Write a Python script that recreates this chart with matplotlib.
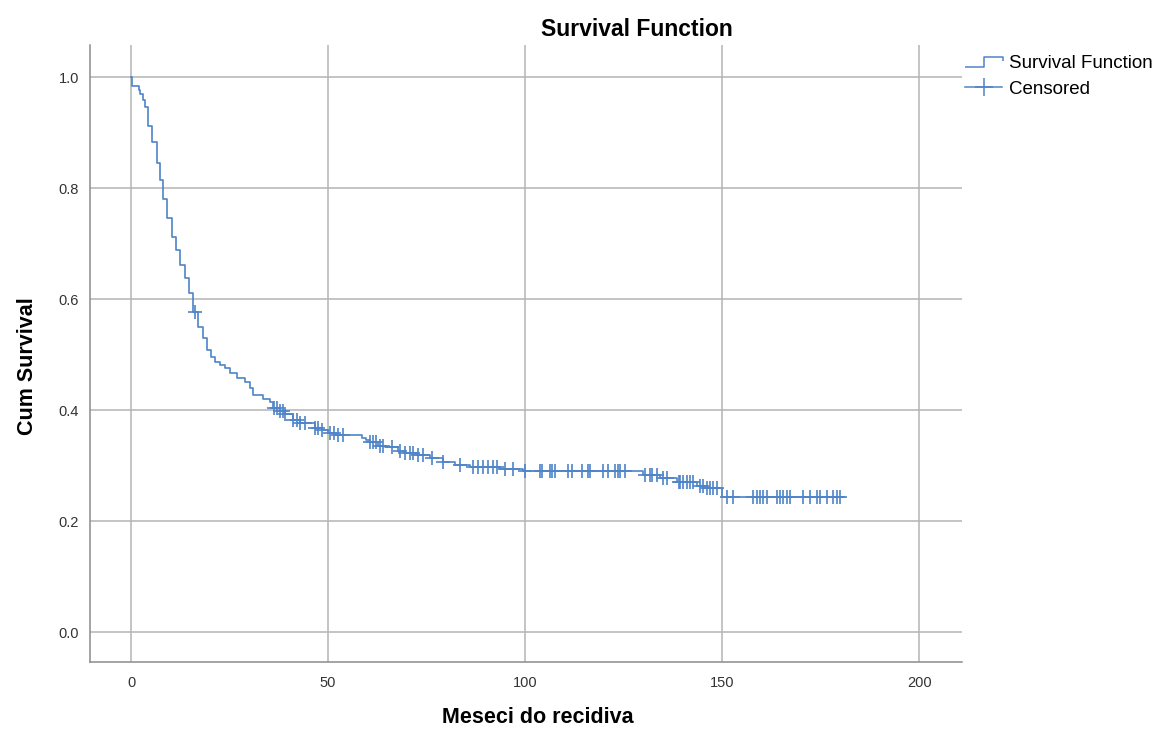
import numpy as np
import matplotlib.pyplot as plt
from matplotlib.lines import Line2D
from matplotlib.path import Path

plt.rcParams['font.family'] = ['Liberation Sans', 'DejaVu Sans']

# Kaplan-Meier estimate: event times (months) and survival after each event
event_months = [0.2, 1.9, 2.3, 3.0, 3.6, 4.4, 5.3, 6.5, 7.4, 8.2, 9.1, 10.4, 11.3,
                12.4, 13.7, 14.8, 15.7, 16.9, 18.3, 19.3, 20.3, 21.3, 22.6, 23.9,
                25.1, 26.9, 28.9, 30.2, 31.0, 33.5, 35.3, 36.0, 37.8, 39.1, 41.1,
                42.9, 46.7, 48.5, 50.0, 51.8, 58.6, 59.6, 60.7, 62.7, 64.5, 67.8,
                69.5, 72.1, 75.9, 79.2, 82.2, 86.0, 93.7, 99.5, 130.0, 134.3,
                138.6, 143.7, 146.2, 150.0]
survival = [0.984, 0.977, 0.970, 0.958, 0.946, 0.911, 0.883, 0.845, 0.814, 0.780,
            0.746, 0.712, 0.688, 0.661, 0.638, 0.611, 0.576, 0.550, 0.530, 0.508,
            0.495, 0.486, 0.481, 0.476, 0.467, 0.458, 0.450, 0.440, 0.427, 0.420,
            0.414, 0.404, 0.398, 0.393, 0.383, 0.377, 0.368, 0.364, 0.358, 0.355,
            0.350, 0.346, 0.342, 0.336, 0.333, 0.326, 0.322, 0.319, 0.313, 0.306,
            0.301, 0.297, 0.293, 0.290, 0.283, 0.277, 0.271, 0.263, 0.260, 0.243]
last_followup = 181.0

censored_months = [16.2, 36.3, 37.1, 37.8, 38.6, 39.1, 41.1, 42.1, 42.9, 44.2,
                   46.7, 47.5, 48.5, 50.5, 51.5, 52.5, 53.8, 60.7, 61.4, 62.2,
                   63.2, 64.0, 66.2, 68.3, 69.5, 70.8, 71.6, 72.8, 74.1, 76.4,
                   79.2, 83.5, 86.8, 88.1, 89.3, 90.6, 91.9, 92.9, 94.9, 96.9,
                   100.0, 103.8, 104.3, 106.3, 106.9, 107.6, 111.0, 112.0, 114.5,
                   116.0, 116.5, 119.8, 121.1, 122.8, 123.6, 124.1, 125.4, 130.5,
                   131.7, 132.2, 133.5, 135.0, 136.0, 139.0, 139.3, 140.1, 141.1,
                   141.9, 142.6, 144.4, 145.2, 146.2, 146.9, 147.7, 148.7, 151.3,
                   152.8, 157.9, 158.9, 159.6, 160.4, 161.4, 163.9, 164.7, 165.5,
                   166.5, 167.3, 170.6, 172.3, 174.1, 174.9, 176.6, 178.2, 179.2,
                   179.9]

color = '#4f84c8'
grid_color = '#b4b4b4'

# step curve starting at (0, 1)
t = np.concatenate([[0.0], event_months, [last_followup]])
s = np.concatenate([[1.0], survival, [survival[-1]]])

def surv_at(x):
    idx = np.searchsorted(t, x, side='right') - 1
    return s[idx]

censored_y = [surv_at(m) for m in censored_months]

fig = plt.figure(figsize=(11.59, 7.36), dpi=100)
ax = fig.add_axes([0.0777, 0.1005, 0.7524, 0.8385])

ax.step(t, s, where='post', color=color, lw=1.2)
ax.plot(censored_months, censored_y, linestyle='none', marker='+',
        color=color, markersize=10, markeredgewidth=1.2)

ax.set_xlim(-10.4, 210.9)
ax.set_ylim(-0.054, 1.058)
ax.set_xticks([0, 50, 100, 150, 200])
ax.set_yticks([0.0, 0.2, 0.4, 0.6, 0.8, 1.0])
ax.set_yticklabels(['0.0', '0.2', '0.4', '0.6', '0.8', '1.0'])
ax.grid(True, color=grid_color, lw=1.1)
ax.set_axisbelow(True)
for side in ['top', 'right']:
    ax.spines[side].set_visible(False)
for side in ['left', 'bottom']:
    ax.spines[side].set_color('#8c8c8c')
    ax.spines[side].set_linewidth(1.1)
ax.tick_params(axis='both', length=0, labelsize=10.5, colors='#333333')
ax.tick_params(axis='x', pad=10)
ax.tick_params(axis='y', pad=8)

fig.text(637 / 1159, 1 - 30 / 736, 'Survival Function', ha='center', va='center',
         fontsize=16.5, fontweight='bold')
ax.set_xlabel('Meseci do recidiva', fontsize=15.5, fontweight='bold', labelpad=12,
              x=0.513)
ax.set_ylabel('Cum Survival', fontsize=15.5, fontweight='bold', labelpad=15,
              y=0.48)

# legend symbols: step glyph and censor cross
step_path = Path([(-1, -0.25), (0, -0.25), (0, 0.25), (1, 0.25), (1, 0.08)],
                 [Path.MOVETO, Path.LINETO, Path.LINETO, Path.LINETO, Path.LINETO])
handles = [
    Line2D([], [], linestyle='none', marker=step_path, markersize=27,
           markerfacecolor='none', markeredgecolor=color, markeredgewidth=1.1),
    Line2D([], [], linestyle='-', color=color, lw=1.1, marker='+',
           markersize=13, markeredgewidth=1.1),
]
fig.legend(handles, ['Survival Function', 'Censored'],
           loc='upper left', bbox_to_anchor=(0.826, 0.935), frameon=False,
           fontsize=13.5, handlelength=2.0, handletextpad=0.35, labelspacing=0.45,
           borderaxespad=0)

fig.savefig('out.png', dpi=100)
